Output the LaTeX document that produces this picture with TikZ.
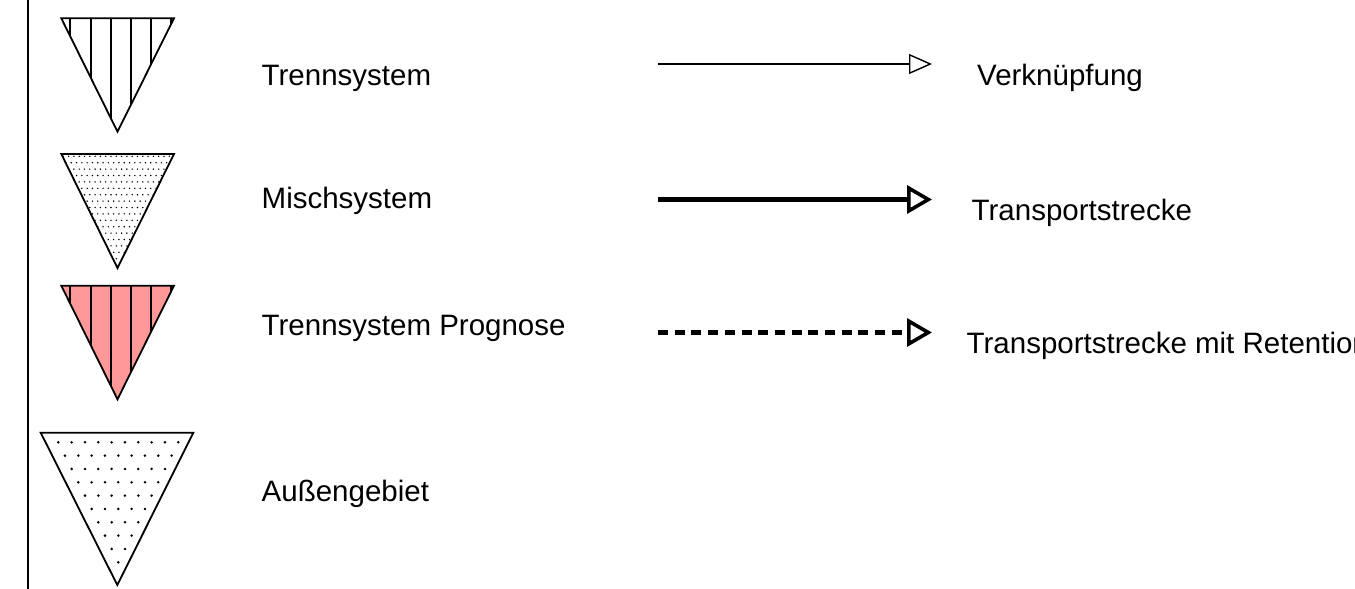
\documentclass[tikz,border=0pt]{standalone}
\usepackage{fontspec}
\setmainfont{Liberation Sans}
\usetikzlibrary{arrows.meta}
\definecolor{prognose}{RGB}{255,153,153}
\tikzset{
  lbl/.style={anchor=base west, inner sep=0pt, font=\fontsize{29.5}{35}\selectfont},
  tri/.style={draw=black, line width=1.8pt, line join=miter},
  hatch/.style={draw=black, line width=1.6pt},
  thinarrow/.style={line width=1.4pt, -{Triangle[open, length=23pt, width=20pt]}},
  thickarrow/.style={line width=4.3pt, -{Triangle[open, length=25pt, width=28pt, line width=3.6pt]}},
  dasharrow/.style={thickarrow, dash pattern=on 10pt off 6.7pt}
}
\begin{document}
\begin{tikzpicture}[x=1pt,y=-1pt]
\clip (0,0) rectangle (1355,589);
\fill[white] (0,0) rectangle (1355,589);
% left border line
\coordinate (lt) at (27.7,0);
\coordinate (lb) at (27.7,589);
\draw[line width=1.8pt] (lt) -- (lb);

% Triangle 1: Trennsystem
\begin{scope}
  \clip (61.3,18.3) -- (174,18.3) -- (117.5,131.7) -- cycle;
  \foreach \x in {70,90.7,110.7,130.7,150.7,171}
    \draw[hatch] (\x,10) -- (\x,140);
\end{scope}
\draw[tri] (61.3,18.3) -- (174,18.3) -- (117.5,131.7) -- cycle;

% Triangle 2: Mischsystem
\begin{scope}
  \clip (61.3,154) -- (174,154) -- (117.5,268) -- cycle;
  \foreach \r in {0,...,17} {
    \pgfmathsetmacro\yy{156.3+6.4*\r}
    \pgfmathsetmacro\off{mod(\r,2)*2.65}
    \foreach \c in {0,...,22} {
      \fill (58+\off+5.3*\c,\yy) circle (0.8);
    }
  }
\end{scope}
\draw[tri] (61.3,154) -- (174,154) -- (117.5,268) -- cycle;

% Triangle 3: Trennsystem Prognose
\fill[prognose] (61.3,285.7) -- (174,285.7) -- (117.5,399.3) -- cycle;
\begin{scope}
  \clip (61.3,285.7) -- (174,285.7) -- (117.5,399.3) -- cycle;
  \foreach \x in {70,90.7,110.7,130.7,150.7,171}
    \draw[hatch] (\x,280) -- (\x,405);
\end{scope}
\draw[tri] (61.3,285.7) -- (174,285.7) -- (117.5,399.3) -- cycle;

% Triangle 4: Aussengebiet
\draw[tri] (40.7,432.7) -- (193.3,432.7) -- (117.3,585) -- cycle;
\foreach \k in {0,...,9} {
  \pgfmathtruncatemacro\n{9-\k}
  \foreach \j in {0,...,\n} {
    \fill (58.3+6.67*\k+13.33*\j, 442.3+13.33*\k) circle (1.4);
  }
}

% Labels left
\node[lbl] (l1) at (261.5,85) {Trennsystem};
\node[lbl] (l2) at (261.5,208) {Mischsystem};
\node[lbl] (l3) at (261.5,335) {Trennsystem Prognose};
\node[lbl] (l4) at (261.5,501) {Außengebiet};

% Arrows
\coordinate (a1s) at (658,64);
\coordinate (a1e) at (932,64);
\coordinate (a2s) at (658,199.5);
\coordinate (a2e) at (932,199.5);
\coordinate (a3s) at (658,332.5);
\coordinate (a3e) at (932,332.5);
\draw[thinarrow] (a1s) -- (a1e);
\draw[thickarrow] (a2s) -- (a2e);
\draw[dasharrow] (a3s) -- (a3e);

% Labels right
\node[lbl] (r1) at (977,85) {Verknüpfung};
\node[lbl] (r2) at (971.5,220) {Transportstrecke};
\node[lbl] (r3) at (966.5,353) {Transportstrecke mit Retention};
\end{tikzpicture}
\end{document}
